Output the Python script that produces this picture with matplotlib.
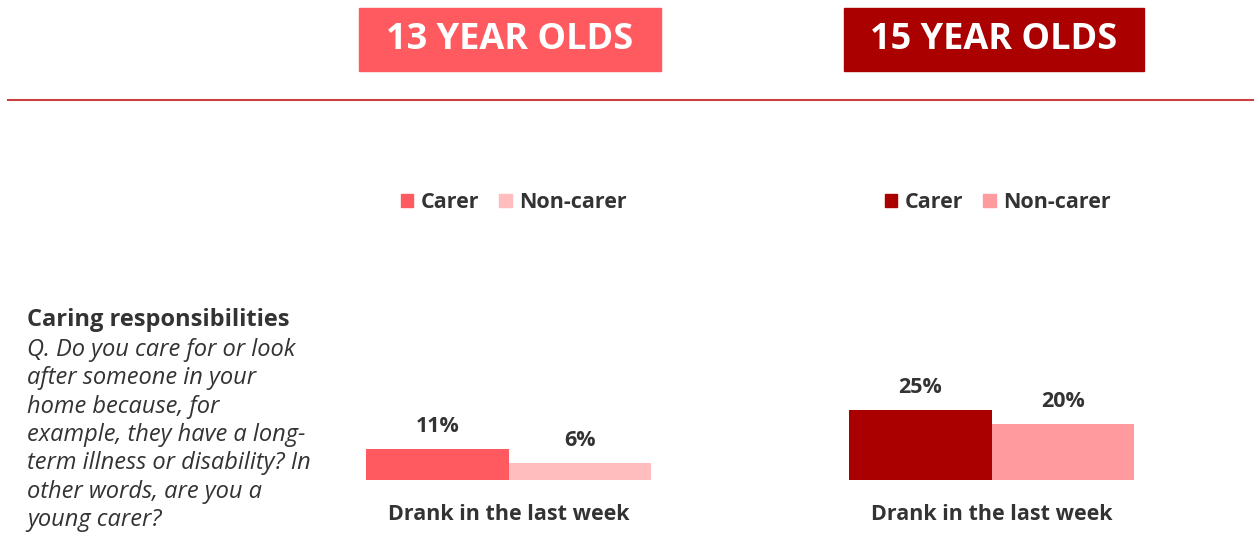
import matplotlib.pyplot as plt
from matplotlib.patches import Rectangle
from matplotlib.lines import Line2D

W, H = 1254, 543

# values (%)
groups = ["13 YEAR OLDS", "15 YEAR OLDS"]
series = ["Carer", "Non-carer"]
carer = [11, 25]
non_carer = [6, 20]
category = "Drank in the last week"

heading = "Caring responsibilities"
question = ("Q. Do you care for or look\nafter someone in your\nhome because, for\n"
            "example, they have a long-\nterm illness or disability? In\n"
            "other words, are you a\nyoung carer?")

colors = [("#FF5A5F", "#FFBDBE"), ("#AA0000", "#FF9A9E")]
text_col = "#333333"

plt.rcParams['font.family'] = ['Open Sans', 'DejaVu Sans']

fig = plt.figure(figsize=(W / 100, H / 100), dpi=100)


def fx(x):
    return x / W


def fy(y):
    return 1 - y / H


# header boxes and divider line
boxes = [(359, 661), (844, 1144)]
for (x0, x1), name, (c, _) in zip(boxes, groups, colors):
    fig.patches.append(Rectangle((fx(x0), fy(71)), fx(x1 - x0), (71 - 8) / H,
                                 transform=fig.transFigure, color=c))
    fig.text(fx((x0 + x1) / 2), fy(40), name, color="white", fontsize=26,
             fontweight="bold", ha="center", va="center")

fig.lines.append(Line2D([fx(8), 1], [fy(100), fy(100)], transform=fig.transFigure,
                        color="#C9403F", lw=1.5))

# question text on the left
fig.text(fx(27), fy(320), heading, fontsize=17, fontweight="bold", color=text_col,
         va="center", ha="left")
fig.text(fx(27), fy(338), question, fontsize=17, style="italic", color=text_col,
         va="top", ha="left", linespacing=1.24)

# bar panels
px_per_pct = 2.82
ax_left = [366, 849]
ax_w = 285
ax_top, ax_bot = 300, 480
for i in range(2):
    ax = fig.add_axes([fx(ax_left[i]), fy(ax_bot), ax_w / W, (ax_bot - ax_top) / H])
    vals = [carer[i], non_carer[i]]
    bars = ax.bar([0, 1], vals, width=1.0, color=colors[i])
    for b, v in zip(bars, vals):
        ax.annotate(f"{v}%", (b.get_x() + b.get_width() / 2, v), xytext=(0, 12),
                    textcoords="offset points", ha="center", va="baseline",
                    fontsize=15.5, fontweight="bold", color=text_col)
    ax.set_xlim(-0.5, 1.5)
    ax.set_ylim(0, (ax_bot - ax_top) / px_per_pct)
    ax.set_xticks([0.5])
    ax.set_xticklabels([category], fontsize=15.5, fontweight="bold", color=text_col)
    ax.tick_params(axis="x", length=0, pad=17)
    ax.set_yticks([])
    for s in ax.spines.values():
        s.set_visible(False)
    ax.patch.set_alpha(0)
    handles = [Rectangle((0, 0), 1, 1, color=c) for c in colors[i]]
    centre = [514, 998][i]
    fig.legend(handles, series, loc="center", bbox_to_anchor=(fx(centre), fy(203)),
               ncol=2, frameon=False, handlelength=0.56, handleheight=0.56,
               handletextpad=0.37, columnspacing=0.93,
               prop={"size": 15.5, "weight": "bold"}, labelcolor=text_col)

fig.savefig("out.png", dpi=100)
